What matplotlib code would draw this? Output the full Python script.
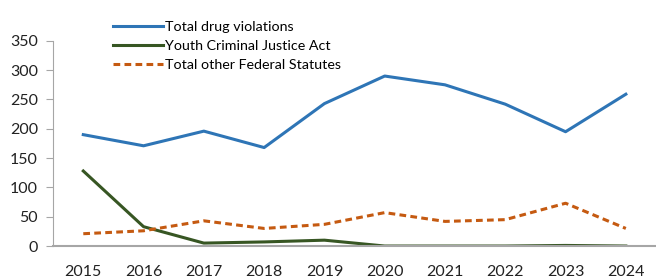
import matplotlib
matplotlib.use("Agg")
import matplotlib.pyplot as plt

years = [2015, 2016, 2017, 2018, 2019, 2020, 2021, 2022, 2023, 2024]
drug = [190, 171, 196, 168, 243, 290, 275, 242, 195, 259]
youth = [128, 33, 5, 7, 10, 0, 0, 0, 1, 0]
other = [21, 26, 43, 30, 37, 57, 42, 45, 73, 30]
yticks = [0, 50, 100, 150, 200, 250, 300, 350]

plt.rcParams['font.family'] = ['Lato', 'DejaVu Sans']

fig = plt.figure(figsize=(6.56, 2.78), dpi=100)
ax = fig.add_axes([0.081, 0.115, 0.919, 0.738])
ax.plot(years, drug, color='#2E75B6', lw=2.2, label='Total drug violations')
ax.plot(years, youth, color='#375623', lw=2.2, label='Youth Criminal Justice Act')
ax.plot(years, other, color='#C55A11', lw=2.2, ls=(0, (2.2, 1.4)), label='Total other Federal Statutes')

ax.set_xlim(2014.5, 2024.5)
ax.set_ylim(0, 350)
ax.set_yticks(yticks)
ax.set_xticks(years)
ax.tick_params(axis='y', labelsize=11.5, length=5, color='#A6A6A6', labelcolor='#222222', pad=6)
ax.tick_params(axis='x', labelsize=11.5, length=0, pad=14, labelcolor='#222222')
for s in ['top', 'right']:
    ax.spines[s].set_visible(False)
ax.spines['left'].set_color('#A6A6A6')
ax.spines['bottom'].set_color('#A6A6A6')
ax.spines['bottom'].set_linewidth(1.5)

leg = ax.legend(loc='upper left', bbox_to_anchor=(0.09, 1.125), frameon=False,
                fontsize=10.3, handlelength=3.5, handletextpad=0.15, labelspacing=0.48,
                borderaxespad=0)
fig.savefig('out.png', dpi=100)
